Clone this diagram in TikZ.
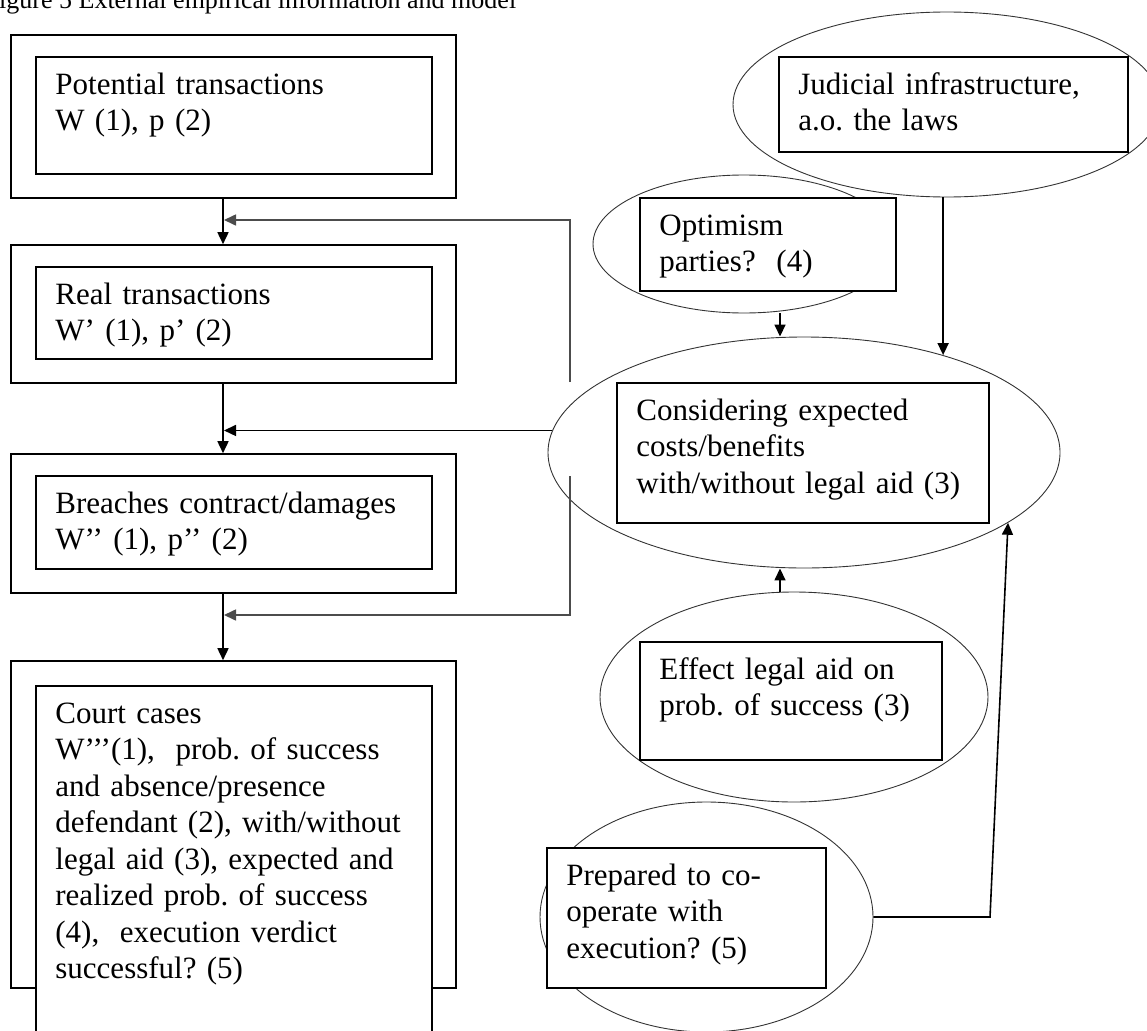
\documentclass[tikz,border=0pt]{standalone}
\usepackage{fontspec}
\setmainfont{Liberation Serif}
\usetikzlibrary{shapes.geometric,arrows.meta}
\frenchspacing
\newcommand{\bodysize}{\fontsize{31}{36.5}\selectfont}

\begin{document}
\begin{tikzpicture}[x=1pt,y=-1pt]
    \tikzstyle{outbox}=[rectangle, draw, line width=1.6pt, minimum width=445pt, inner sep=0pt]
    \tikzstyle{inbox}=[rectangle, draw, fill=white, line width=1.6pt, inner sep=0pt]
    \tikzstyle{oval}=[ellipse, draw=black!80, line width=0.9pt, inner sep=0pt]
    \tikzstyle{words}=[anchor=north west, inner sep=0pt, text width=420pt, align=left, font=\bodysize]
    \tikzstyle{flow}=[-{Triangle[length=12pt,width=11pt]}, line width=1.6pt]
    \tikzstyle{back}=[flow, draw=black!70]

    \useasboundingbox (0,0) rectangle (1147,1030);
    \node[anchor=base west, inner sep=0pt, font=\fontsize{26}{30}\selectfont] (title) at (-1,9) {igure 5 External empirical information and model};

    % left column
    \node[outbox, minimum height=163pt] (potout) at (233.5,116.5) {};
    \node[inbox, minimum width=396pt, minimum height=117pt] (potin) at (234,115.5) {};
    \node[outbox, minimum height=138pt] (realout) at (233.5,314) {};
    \node[inbox, minimum width=396pt, minimum height=92pt] (realin) at (234,313) {};
    \node[outbox, minimum height=139pt] (breachout) at (233.5,523.5) {};
    \node[inbox, minimum width=396pt, minimum height=93pt] (breachin) at (234,522.5) {};
    \node[outbox, minimum height=327pt] (courtout) at (233.5,824.5) {};
    \node[inbox, minimum width=396pt, minimum height=374pt] (courtin) at (234,873) {};

    \node[words] (pottext) at ([shift={(20pt,-12.5pt)}]potin.north west) {\strut Potential transactions\\ W (1), p (2)};
    \node[words] (realtext) at ([shift={(20pt,-12.5pt)}]realin.north west) {\strut Real transactions\\ W’ (1), p’ (2)};
    \node[words] (breachtext) at ([shift={(20pt,-12.5pt)}]breachin.north west) {\strut Breaches contract/damages\\ W’’ (1), p’’ (2)};
    \node[words] (courttext) at ([shift={(20pt,-12.5pt)}]courtin.north west) {\strut Court cases\\ W’’’(1),\ \ prob. of success\\ and absence/presence\\ defendant (2), with/without\\ legal aid (3), expected and\\ realized prob. of success\\ (4),\ \ execution verdict\\ successful? (5)};

    % right column
    \node[oval, minimum width=428pt, minimum height=185pt] (judell) at (947,104.5) {};
    \node[oval, minimum width=302pt, minimum height=138pt] (optell) at (744,244) {};
    \node[oval, minimum width=512pt, minimum height=231pt] (consell) at (804,452.5) {};
    \node[oval, minimum width=388pt, minimum height=210pt] (effell) at (794,697) {};
    \node[oval, minimum width=333pt, minimum height=230pt] (prepell) at (706.5,917) {};

    \node[inbox, minimum width=349pt, minimum height=95pt] (judbox) at (953.5,104.5) {};
    \node[inbox, minimum width=256pt, minimum height=93pt] (optbox) at (768,244.5) {};
    \node[inbox, minimum width=372pt, minimum height=140pt] (consbox) at (803,453) {};
    \node[inbox, minimum width=302pt, minimum height=118pt] (effbox) at (791,701) {};
    \node[inbox, minimum width=279pt, minimum height=140pt] (prepbox) at (686.5,918) {};

    \node[words] (judtext) at ([shift={(20pt,-12.5pt)}]judbox.north west) {\strut Judicial infrastructure,\\ a.o. the laws};
    \node[words] (opttext) at ([shift={(20pt,-12.5pt)}]optbox.north west) {\strut Optimism\\ parties?\ \ (4)};
    \node[words] (constext) at ([shift={(20pt,-12.5pt)}]consbox.north west) {\strut Considering expected\\ costs/benefits\\ with/without legal aid (3)};
    \node[words] (efftext) at ([shift={(20pt,-12.5pt)}]effbox.north west) {\strut Effect legal aid on\\ prob. of success (3)};
    \node[words] (preptext) at ([shift={(20pt,-12.5pt)}]prepbox.north west) {\strut Prepared to co-\\ operate with\\ execution? (5)};

    % connectors
    \coordinate (col) at (223,0);
    \coordinate (colR) at (780,0);
    \coordinate (joinA) at (224,220);
    \coordinate (joinB) at (224,615);
    \coordinate (backtop) at (570,382);
    \coordinate (backlow) at (570,476);
    \coordinate (bend) at (990,917);

    \draw[flow] (potout.south -| col) -- (realout.north -| col);
    \draw[flow] (realout.south -| col) -- (breachout.north -| col);
    \draw[flow] (breachout.south -| col) -- (courtout.north -| col);
    \draw[back] (backtop) |- (joinA);
    \draw[back] (backlow) |- (joinB);
    \draw[flow] (consell.175) -- (consell.175 -| joinA);

    \draw[flow] (optell.south -| colR) -- (consell.north -| colR);
    \draw[flow] (judell.south -| consell.35) -- (consell.35);
    \draw[flow] (effell.north -| colR) -- (consell.south -| colR);
    \draw[flow] (prepell.east) -- (bend) -- (consell.-19);
\end{tikzpicture}
\end{document}
